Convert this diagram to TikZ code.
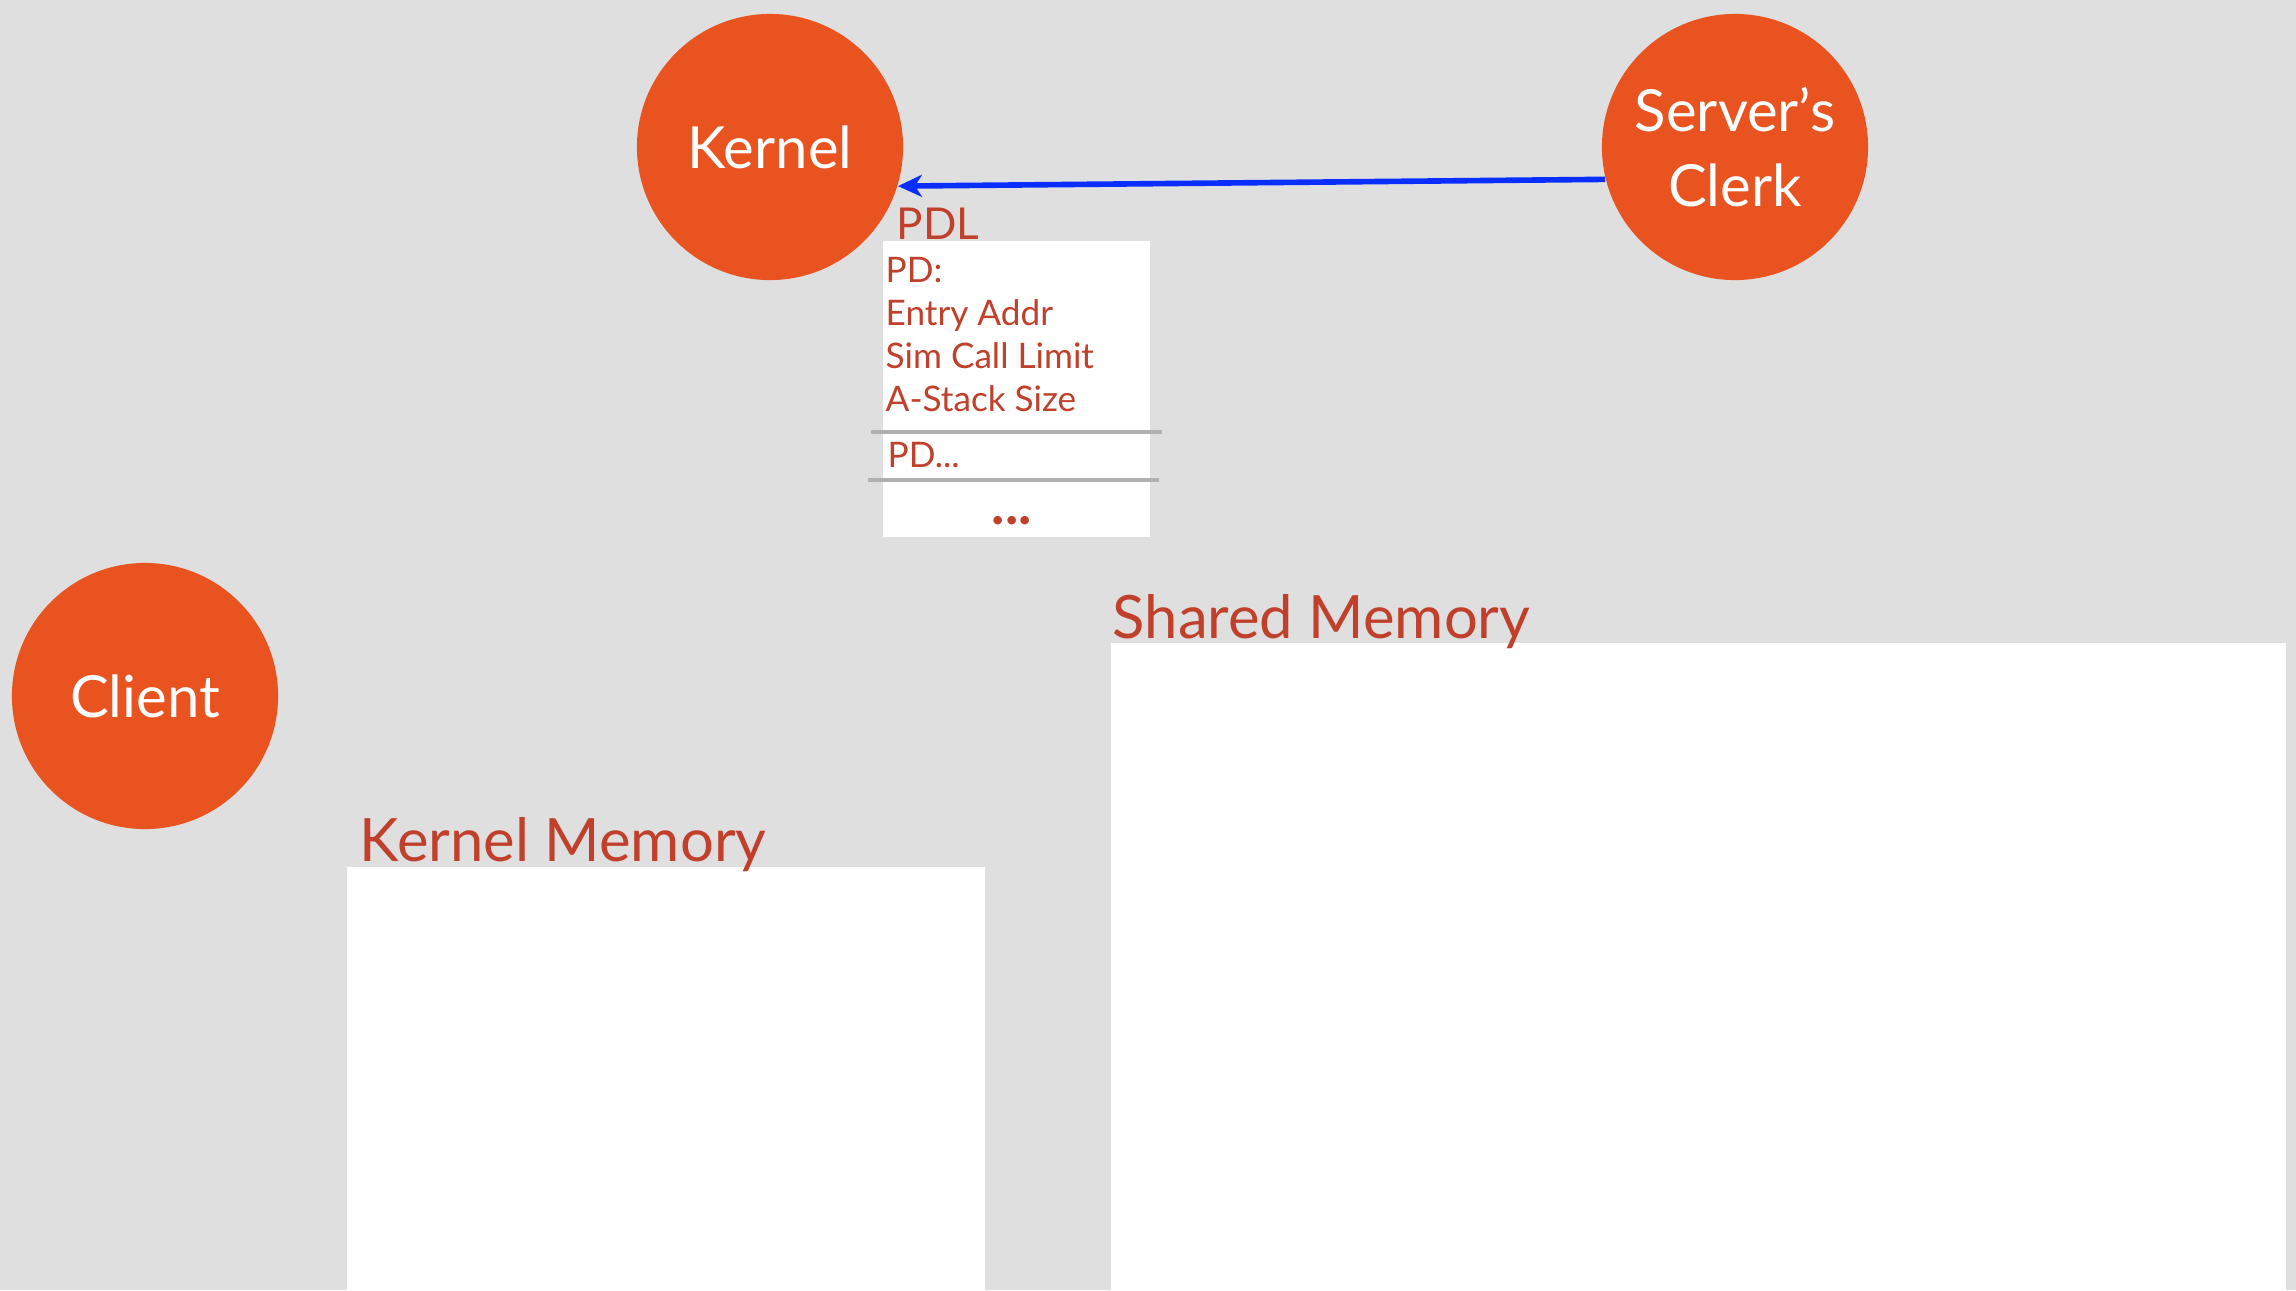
\documentclass[tikz,border=0pt]{standalone}
\usepackage{fontspec}
\setmainfont{Lato}
\usepackage{xcolor}
\usetikzlibrary{arrows.meta}
\definecolor{slideorange}{HTML}{E8531F}
\definecolor{slidered}{HTML}{C0402B}
\definecolor{slidebg}{HTML}{DFDFDF}
\definecolor{arrowblue}{HTML}{0A2EFF}
\definecolor{rulegray}{HTML}{B0B0B0}

\begin{document}
\begin{tikzpicture}[x=0.01cm, y=-0.01cm,
        proc/.style={circle, fill=slideorange, text=white, minimum size=2.66cm, inner sep=0pt,
            align=center, font=\fontsize{16.5}{21.5}\selectfont},
        memlabel/.style={anchor=base west, text=slidered, inner sep=0pt, font=\fontsize{17}{20}\selectfont},
        pdtext/.style={anchor=base west, text=slidered, inner sep=0pt, font=\fontsize{10}{12}\selectfont},
        membox/.style={fill=white},
        sep/.style={rulegray, line width=1.4pt}]
        % background of the slide
        \fill[slidebg] (0,0) rectangle (2296,1290);
        \useasboundingbox (0,0) rectangle (2296,1290);

        % memory regions
        \fill[membox] (347,867) rectangle (985,1290);
        \fill[membox] (1111,643) rectangle (2286,1290);
        \node[memlabel] (kmemlbl) at (359,861) {Kernel Memory};
        \node[memlabel] (smemlbl) at (1112,638) {Shared Memory};

        % processes
        \node[proc] (kernel) at (770,147) {Kernel};
        \node[proc] (clerk) at (1735,147) {Server’s\\Clerk};
        \node[proc] (client) at (145,696) {Client};

        % procedure descriptor list
        \fill[membox] (883,241) rectangle (1150,537);
        \node[pdtext, font=\fontsize{12.5}{15}\selectfont] (pdl) at (896,239) {PDL};
        \foreach \txt [count=\i] in {PD:, Entry Addr, Sim Call Limit, A-Stack Size}
            \node[pdtext] (pd\i) at (885,239+43*\i) {\txt};
        \draw[sep] (871,432) -- (1162,432);
        \node[pdtext] (pdmore) at (887,467) {PD...};
        \draw[sep] (868,480) -- (1159,480);
        \node[text=slidered, inner sep=0pt, anchor=base, font=\fontsize{16}{18}\bfseries] (dots) at (1012,524) {...};

        \draw[arrowblue, line width=1.6pt, -{Stealth[length=0.24cm, width=0.22cm, inset=0.07cm]}] (clerk.194) -- (kernel.-17);
\end{tikzpicture}
\end{document}
